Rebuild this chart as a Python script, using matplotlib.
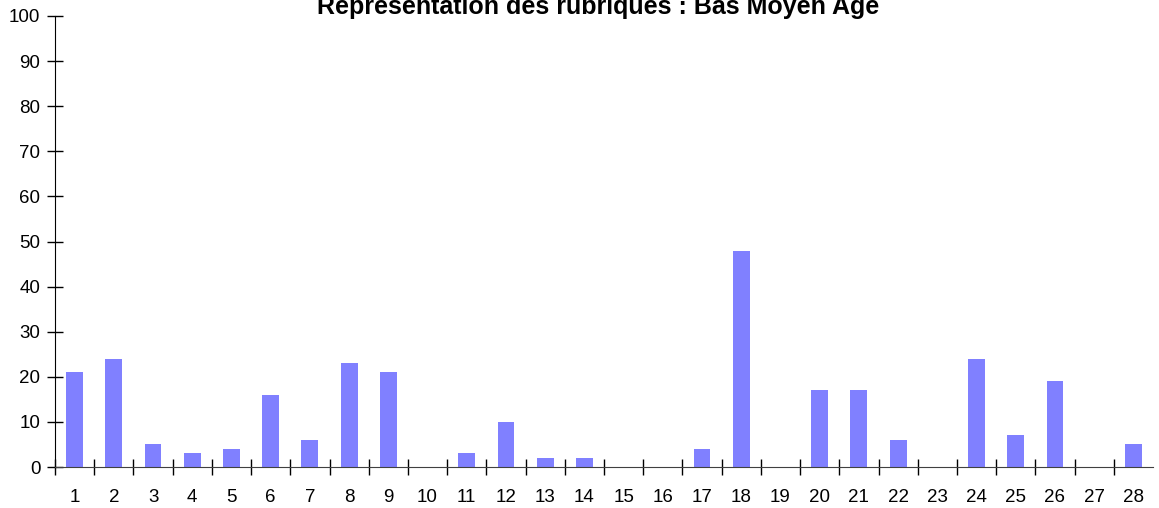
import matplotlib
matplotlib.use("Agg")
import matplotlib.pyplot as plt
from matplotlib.ticker import FixedLocator

categories = [str(i) for i in range(1, 29)]
values = [21, 24, 5, 3, 4, 16, 6, 23, 21, 0, 3, 10, 2, 2, 0, 0, 4, 48, 0, 17, 17, 6, 0, 24, 7, 19, 0, 5]
yticks = list(range(0, 101, 10))
title = "Représentation des rubriques : Bas Moyen Age"

plt.rcParams['font.family'] = ['Liberation Sans', 'DejaVu Sans']

fig = plt.figure(figsize=(11.59, 5.08), dpi=100)
ax = fig.add_axes([55/1159, 1 - 467/508, (1153 - 55)/1159, (467 - 16)/508])

x = list(range(1, len(categories) + 1))
ax.bar(x, values, width=0.43, color='#8080FF', edgecolor='none', zorder=2)

ax.set_xlim(0.5, len(categories) + 0.5)
ax.set_ylim(0, 100)

ax.set_xticks(x)
ax.set_xticklabels(categories, fontsize=13.5)
ax.tick_params(axis='x', which='major', length=0, pad=15.5)
ax.xaxis.set_minor_locator(FixedLocator([i + 0.5 for i in range(len(categories))]))
ax.tick_params(axis='x', which='minor', direction='inout', length=12, width=1, color='black')

ax.set_yticks(yticks)
ax.set_yticklabels([str(v) for v in yticks], fontsize=13.5)
ax.tick_params(axis='y', which='major', direction='inout', length=12, width=1, pad=4.5)

for s in ['top', 'right']:
    ax.spines[s].set_visible(False)
ax.spines['left'].set_color('black')
ax.spines['bottom'].set_color('#404040')
ax.spines['left'].set_zorder(3)
ax.spines['bottom'].set_zorder(3)

fig.text(598/1159, 1 - 14/508, title, ha='center', va='baseline', fontsize=18, fontweight='bold')

fig.savefig('out.png', dpi=100)
